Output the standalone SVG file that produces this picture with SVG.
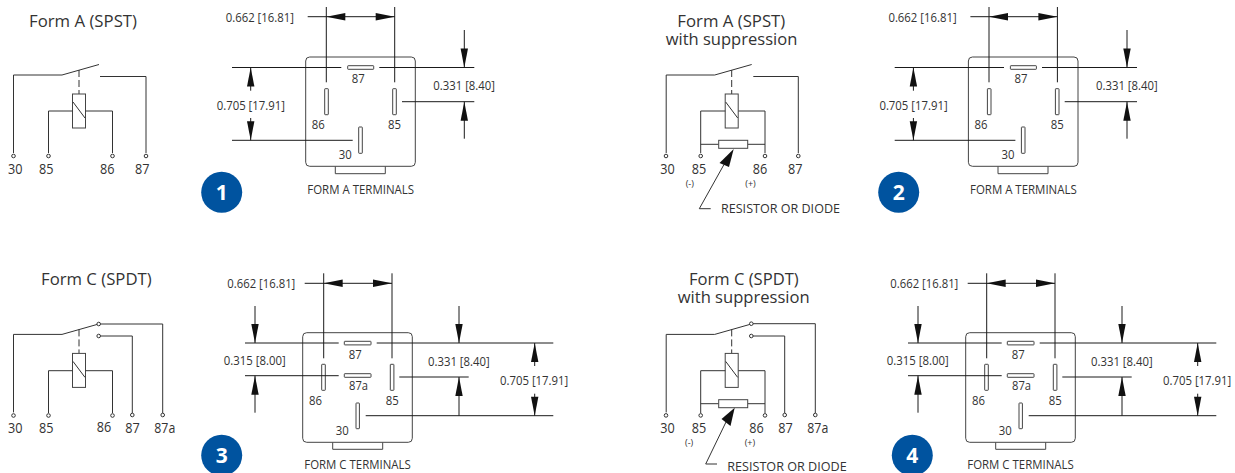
<svg xmlns="http://www.w3.org/2000/svg" xmlns:xlink="http://www.w3.org/1999/xlink" width="1235" height="473" viewBox="0 0 1235 473">
<style>
text{font-family:"Open Sans","Noto Sans","Liberation Sans",sans-serif;fill:#333}
.t{font-size:16.5px}.d{font-size:12.2px}.n{font-size:13.8px}.b{font-size:12px}.s{font-size:9px}.r{font-size:13px}
.num{font-family:"Open Sans","Liberation Sans",sans-serif;font-size:21px;font-weight:700;fill:#fff;text-anchor:middle}
.w{fill:none;stroke:#333;stroke-width:1}
.k{fill:none;stroke:#1a1a1a;stroke-width:1}
.box{fill:#fff;stroke:#444;stroke-width:1}
.o{fill:#fff;stroke:#333;stroke-width:1}
.badge{fill:#00539f}
.ah{fill:#111}
</style>
<defs>
<polygon id="ah" class="ah" points="0,0 -19,-3.7 -19,3.7"/>
<g id="relaybody">
<path class="w" d="M13.5 153V75H62L99 64.5"/>
<path class="w" stroke-dasharray="7 3" d="M79 70V94"/>
<rect class="box" x="72.5" y="94" width="13" height="34"/>
<path class="w" d="M73 102L85 118"/>
</g>
</defs>

<g id="schematic-1">
<text class="t" x="29" y="26.7" textLength="108" lengthAdjust="spacingAndGlyphs">Form A (SPST)</text>
<use xlink:href="#relaybody"/>
<path class="w" d="M100 76.5H146V153M48.5 153V111H72.5M85.5 111H112.5V153"/>
<circle class="o" cx="13.5" cy="156" r="1.8"/><circle class="o" cx="48.5" cy="156" r="1.8"/><circle class="o" cx="112.5" cy="156" r="1.8"/><circle class="o" cx="146" cy="156" r="1.8"/>
<text class="n" x="8" y="174" textLength="14.5" lengthAdjust="spacingAndGlyphs">30</text><text class="n" x="39" y="174" textLength="14.5" lengthAdjust="spacingAndGlyphs">85</text><text class="n" x="100" y="174" textLength="14.5" lengthAdjust="spacingAndGlyphs">86</text><text class="n" x="135" y="174" textLength="14.5" lengthAdjust="spacingAndGlyphs">87</text>
</g>

<g id="schematic-2">
<text class="t" x="677.3" y="26.7" textLength="108" lengthAdjust="spacingAndGlyphs">Form A (SPST)</text>
<text class="t" x="665.7" y="44.7" textLength="131.6" lengthAdjust="spacingAndGlyphs">with suppression</text>
<use xlink:href="#relaybody" transform="translate(652.7 0)"/>
<path class="w" d="M753.3 76.5H798.3V153M700.7 153V111H725.3M738.3 111H765V153M700.7 144.3H718.7M747.7 144.3H765"/>
<rect class="box" x="718.7" y="140.3" width="29" height="8"/>
<circle class="o" cx="666" cy="156" r="1.8"/><circle class="o" cx="700.7" cy="156" r="1.8"/><circle class="o" cx="765" cy="156" r="1.8"/><circle class="o" cx="798.3" cy="156" r="1.8"/>
<text class="n" x="660.3" y="174" textLength="14.5" lengthAdjust="spacingAndGlyphs">30</text><text class="n" x="691.7" y="174" textLength="14.5" lengthAdjust="spacingAndGlyphs">85</text><text class="n" x="752.7" y="174" textLength="14.5" lengthAdjust="spacingAndGlyphs">86</text><text class="n" x="788" y="174" textLength="14.5" lengthAdjust="spacingAndGlyphs">87</text>
<text class="s" x="685.7" y="187">(-)</text><text class="s" x="745.3" y="187">(+)</text>
<path class="w" d="M710.7 208.7H699.3L724 164.5"/>
<polygon class="ah" points="733.7,149 719.5,163 729,167"/>
<text class="r" x="721" y="213.3" textLength="119" lengthAdjust="spacingAndGlyphs">RESISTOR OR DIODE</text>
</g>

<g id="schematic-3">
<text class="t" x="41" y="285.3" textLength="110.7" lengthAdjust="spacingAndGlyphs">Form C (SPDT)</text>
<use xlink:href="#relaybody" transform="translate(0 259.4)"/>
<path class="w" d="M100.5 324H162.7V413M100.5 336H132.3V413M48.5 413V370.7H72.5M85.5 370.7H112.5V413"/>
<circle class="o" cx="13.5" cy="415.5" r="1.8"/><circle class="o" cx="48.5" cy="415.5" r="1.8"/><circle class="o" cx="112.5" cy="415.5" r="1.8"/><circle class="o" cx="132.3" cy="415" r="1.8"/><circle class="o" cx="162.7" cy="415" r="1.8"/>
<circle class="o" cx="98.7" cy="324" r="1.8"/><circle class="o" cx="98.7" cy="336" r="1.8"/>
<text class="n" x="8" y="432.7" textLength="14.5" lengthAdjust="spacingAndGlyphs">30</text><text class="n" x="39" y="432.7" textLength="14.5" lengthAdjust="spacingAndGlyphs">85</text><text class="n" x="96.7" y="432" textLength="14.5" lengthAdjust="spacingAndGlyphs">86</text><text class="n" x="125.3" y="433.3" textLength="14.5" lengthAdjust="spacingAndGlyphs">87</text><text class="n" x="154.3" y="433.3" textLength="21" lengthAdjust="spacingAndGlyphs">87a</text>
</g>

<g id="schematic-4">
<text class="t" x="689" y="284.7" textLength="109.7" lengthAdjust="spacingAndGlyphs">Form C (SPDT)</text>
<text class="t" x="677.7" y="303" textLength="132" lengthAdjust="spacingAndGlyphs">with suppression</text>
<use xlink:href="#relaybody" transform="translate(652.7 259.4)"/>
<path class="w" d="M753 323.7H815.3V413M753 336H784.7V413M700.7 413V370.7H725.3M738.3 370.7H765V413M700.7 403.7H718.7M747.7 403.7H765"/>
<rect class="box" x="718.7" y="399.7" width="29" height="8"/>
<circle class="o" cx="666" cy="415.4" r="1.8"/><circle class="o" cx="700.7" cy="415.4" r="1.8"/><circle class="o" cx="765" cy="415.4" r="1.8"/><circle class="o" cx="784.7" cy="415" r="1.8"/><circle class="o" cx="815.3" cy="415" r="1.8"/>
<circle class="o" cx="751.3" cy="323.7" r="1.8"/><circle class="o" cx="751.3" cy="336" r="1.8"/>
<text class="n" x="660.3" y="432.7" textLength="14.5" lengthAdjust="spacingAndGlyphs">30</text><text class="n" x="691.7" y="432.7" textLength="14.5" lengthAdjust="spacingAndGlyphs">85</text><text class="n" x="749.3" y="432.7" textLength="14.5" lengthAdjust="spacingAndGlyphs">86</text><text class="n" x="778.3" y="432.7" textLength="14.5" lengthAdjust="spacingAndGlyphs">87</text><text class="n" x="807.3" y="432.7" textLength="21" lengthAdjust="spacingAndGlyphs">87a</text>
<text class="s" x="685" y="446">(-)</text><text class="s" x="744.7" y="446">(+)</text>
<path class="w" d="M717 464H705.7L726 422"/>
<polygon class="ah" points="734.7,407.7 721.5,419 730.5,426"/>
<text class="r" x="727.3" y="470.7" textLength="119.4" lengthAdjust="spacingAndGlyphs">RESISTOR OR DIODE</text>
</g>

<g id="block-1">
<path class="box" d="M335.3 166.3V173.7H385.3V166.3"/>
<rect class="box" x="305.7" y="57" width="109.6" height="109.3" rx="4"/>
<rect class="box" x="347.7" y="65.7" width="26" height="3.6" rx=".5"/><rect class="box" x="324.7" y="88.7" width="3.6" height="26" rx=".5"/><rect class="box" x="392.7" y="88.7" width="3.6" height="26" rx=".5"/><rect class="box" x="358.7" y="127" width="3.6" height="26.3" rx=".5"/>
<text class="b" x="351.7" y="83.3" textLength="13" lengthAdjust="spacingAndGlyphs">87</text><text class="b" x="311.7" y="129" textLength="13" lengthAdjust="spacingAndGlyphs">86</text><text class="b" x="388" y="129" textLength="13" lengthAdjust="spacingAndGlyphs">85</text><text class="b" x="338.7" y="159" textLength="13" lengthAdjust="spacingAndGlyphs">30</text>
<text class="b" x="307.3" y="193.7" textLength="106.7" lengthAdjust="spacingAndGlyphs">FORM A TERMINALS</text>
<text class="d" x="225.7" y="21.7" textLength="68.3" lengthAdjust="spacingAndGlyphs">0.662 [16.81]</text>
<text class="d" x="216.7" y="110" textLength="68.3" lengthAdjust="spacingAndGlyphs">0.705 [17.91]</text>
<text class="d" x="433.3" y="90" textLength="61.7" lengthAdjust="spacingAndGlyphs">0.331 [8.40]</text>
</g>
<g id="dimensions-1">
<path class="k" d="M326.3 7V82.3M394.7 7V82.3M307.7 16.7H394.7M232 67.5H341.3M379.3 67.5H474.3M232 140.3H352.7M402 101.7H474.3M250.7 67.5V90.7M250.7 118V140.3M464.3 30V67.5M464.3 101.7V138.7"/>
<use xlink:href="#ah" transform="translate(326.3 16.7) rotate(180)"/><use xlink:href="#ah" transform="translate(394.7 16.7)"/>
<use xlink:href="#ah" transform="translate(250.7 67.5) rotate(-90)"/><use xlink:href="#ah" transform="translate(250.7 140.3) rotate(90)"/>
<use xlink:href="#ah" transform="translate(464.3 67.5) rotate(90)"/><use xlink:href="#ah" transform="translate(464.3 101.7) rotate(-90)"/>
</g>
<g id="badge-1"><circle class="badge" cx="221.7" cy="192.3" r="20.5"/><text class="num" x="221.7" y="199.8">1</text></g>

<g id="block-2" transform="translate(662.7 0)">
<path class="box" d="M335.3 166.3V173.7H385.3V166.3"/>
<rect class="box" x="305.7" y="57" width="109.6" height="109.3" rx="4"/>
<rect class="box" x="347.7" y="65.7" width="26" height="3.6" rx=".5"/><rect class="box" x="324.7" y="88.7" width="3.6" height="26" rx=".5"/><rect class="box" x="392.7" y="88.7" width="3.6" height="26" rx=".5"/><rect class="box" x="358.7" y="127" width="3.6" height="26.3" rx=".5"/>
<text class="b" x="351.7" y="83.3" textLength="13" lengthAdjust="spacingAndGlyphs">87</text><text class="b" x="311.7" y="129" textLength="13" lengthAdjust="spacingAndGlyphs">86</text><text class="b" x="388" y="129" textLength="13" lengthAdjust="spacingAndGlyphs">85</text><text class="b" x="338.7" y="159" textLength="13" lengthAdjust="spacingAndGlyphs">30</text>
<text class="b" x="307.3" y="193.7" textLength="106.7" lengthAdjust="spacingAndGlyphs">FORM A TERMINALS</text>
<text class="d" x="225.7" y="21.7" textLength="68.3" lengthAdjust="spacingAndGlyphs">0.662 [16.81]</text>
<text class="d" x="216.7" y="110" textLength="68.3" lengthAdjust="spacingAndGlyphs">0.705 [17.91]</text>
<text class="d" x="433.3" y="90" textLength="61.7" lengthAdjust="spacingAndGlyphs">0.331 [8.40]</text>
</g>
<g id="dimensions-2" transform="translate(662.7 0)">
<path class="k" d="M326.3 7V82.3M394.7 7V82.3M307.7 16.7H394.7M232 67.5H341.3M379.3 67.5H474.3M232 140.3H352.7M402 101.7H474.3M250.7 67.5V90.7M250.7 118V140.3M464.3 30V67.5M464.3 101.7V138.7"/>
<use xlink:href="#ah" transform="translate(326.3 16.7) rotate(180)"/><use xlink:href="#ah" transform="translate(394.7 16.7)"/>
<use xlink:href="#ah" transform="translate(250.7 67.5) rotate(-90)"/><use xlink:href="#ah" transform="translate(250.7 140.3) rotate(90)"/>
<use xlink:href="#ah" transform="translate(464.3 67.5) rotate(90)"/><use xlink:href="#ah" transform="translate(464.3 101.7) rotate(-90)"/>
</g>
<g id="badge-2"><circle class="badge" cx="898.7" cy="192.3" r="20.5"/><text class="num" x="898.7" y="199.8">2</text></g>

<g id="block-3">
<path class="box" d="M332.7 442.3V449.3H382.7V442.3"/>
<rect class="box" x="302.7" y="332.7" width="109.6" height="109.6" rx="4"/>
<rect class="box" x="344.3" y="341.3" width="26.7" height="3.6" rx=".5"/><rect class="box" x="344.3" y="373.7" width="26.7" height="3.6" rx=".5"/><rect class="box" x="321.7" y="364.3" width="3.6" height="26" rx=".5"/><rect class="box" x="390.3" y="364.3" width="3.6" height="26" rx=".5"/><rect class="box" x="356" y="403" width="3.4" height="25.7" rx=".5"/>
<text class="b" x="348.7" y="359" textLength="13" lengthAdjust="spacingAndGlyphs">87</text><text class="b" x="349" y="390" textLength="19" lengthAdjust="spacingAndGlyphs">87a</text><text class="b" x="309" y="405" textLength="13" lengthAdjust="spacingAndGlyphs">86</text><text class="b" x="385.7" y="405" textLength="13" lengthAdjust="spacingAndGlyphs">85</text><text class="b" x="335.7" y="435" textLength="13" lengthAdjust="spacingAndGlyphs">30</text>
<text class="b" x="304.3" y="468.7" textLength="106.4" lengthAdjust="spacingAndGlyphs">FORM C TERMINALS</text>
<text class="d" x="227.3" y="288" textLength="68" lengthAdjust="spacingAndGlyphs">0.662 [16.81]</text>
<text class="d" x="223.7" y="365" textLength="62" lengthAdjust="spacingAndGlyphs">0.315 [8.00]</text>
<text class="d" x="428" y="366" textLength="61.7" lengthAdjust="spacingAndGlyphs">0.331 [8.40]</text>
<text class="d" x="500" y="385" textLength="68.3" lengthAdjust="spacingAndGlyphs">0.705 [17.91]</text>
</g>
<g id="dimensions-3">
<path class="k" d="M323.7 273.3V358.3M392 273.3V358.3M304.7 283.3H392M245 343H338.7M376.7 343H553.3M245 375.7H338.7M399.3 377H468.7M365.7 415.7H553.3M255 306V343M255 375.7V412.7M459 306V343M459 377V415.7M534.7 343V366M534.7 393.7V415.7"/>
<use xlink:href="#ah" transform="translate(323.7 283.3) rotate(180)"/><use xlink:href="#ah" transform="translate(392 283.3)"/>
<use xlink:href="#ah" transform="translate(255 343) rotate(90)"/><use xlink:href="#ah" transform="translate(255 375.7) rotate(-90)"/>
<use xlink:href="#ah" transform="translate(459 343) rotate(90)"/><use xlink:href="#ah" transform="translate(459 377) rotate(-90)"/>
<use xlink:href="#ah" transform="translate(534.7 343) rotate(-90)"/><use xlink:href="#ah" transform="translate(534.7 415.7) rotate(90)"/>
</g>
<g id="badge-3"><circle class="badge" cx="221.7" cy="455.3" r="20.5"/><text class="num" x="221.7" y="462.8">3</text></g>

<g id="block-4" transform="translate(663 0)">
<path class="box" d="M332.7 442.3V449.3H382.7V442.3"/>
<rect class="box" x="302.7" y="332.7" width="109.6" height="109.6" rx="4"/>
<rect class="box" x="344.3" y="341.3" width="26.7" height="3.6" rx=".5"/><rect class="box" x="344.3" y="373.7" width="26.7" height="3.6" rx=".5"/><rect class="box" x="321.7" y="364.3" width="3.6" height="26" rx=".5"/><rect class="box" x="390.3" y="364.3" width="3.6" height="26" rx=".5"/><rect class="box" x="356" y="403" width="3.4" height="25.7" rx=".5"/>
<text class="b" x="348.7" y="359" textLength="13" lengthAdjust="spacingAndGlyphs">87</text><text class="b" x="349" y="390" textLength="19" lengthAdjust="spacingAndGlyphs">87a</text><text class="b" x="309" y="405" textLength="13" lengthAdjust="spacingAndGlyphs">86</text><text class="b" x="385.7" y="405" textLength="13" lengthAdjust="spacingAndGlyphs">85</text><text class="b" x="335.7" y="435" textLength="13" lengthAdjust="spacingAndGlyphs">30</text>
<text class="b" x="304.3" y="468.7" textLength="106.4" lengthAdjust="spacingAndGlyphs">FORM C TERMINALS</text>
<text class="d" x="227.3" y="288" textLength="68" lengthAdjust="spacingAndGlyphs">0.662 [16.81]</text>
<text class="d" x="223.7" y="365" textLength="62" lengthAdjust="spacingAndGlyphs">0.315 [8.00]</text>
<text class="d" x="428" y="366" textLength="61.7" lengthAdjust="spacingAndGlyphs">0.331 [8.40]</text>
<text class="d" x="500" y="385" textLength="68.3" lengthAdjust="spacingAndGlyphs">0.705 [17.91]</text>
</g>
<g id="dimensions-4" transform="translate(663 0)">
<path class="k" d="M323.7 273.3V358.3M392 273.3V358.3M304.7 283.3H392M245 343H338.7M376.7 343H553.3M245 375.7H338.7M399.3 377H468.7M365.7 415.7H553.3M255 306V343M255 375.7V412.7M459 306V343M459 377V415.7M534.7 343V366M534.7 393.7V415.7"/>
<use xlink:href="#ah" transform="translate(323.7 283.3) rotate(180)"/><use xlink:href="#ah" transform="translate(392 283.3)"/>
<use xlink:href="#ah" transform="translate(255 343) rotate(90)"/><use xlink:href="#ah" transform="translate(255 375.7) rotate(-90)"/>
<use xlink:href="#ah" transform="translate(459 343) rotate(90)"/><use xlink:href="#ah" transform="translate(459 377) rotate(-90)"/>
<use xlink:href="#ah" transform="translate(534.7 343) rotate(-90)"/><use xlink:href="#ah" transform="translate(534.7 415.7) rotate(90)"/>
</g>
<g id="badge-4"><circle class="badge" cx="912.3" cy="455.3" r="20.5"/><text class="num" x="912.3" y="462.8">4</text></g>
</svg>
